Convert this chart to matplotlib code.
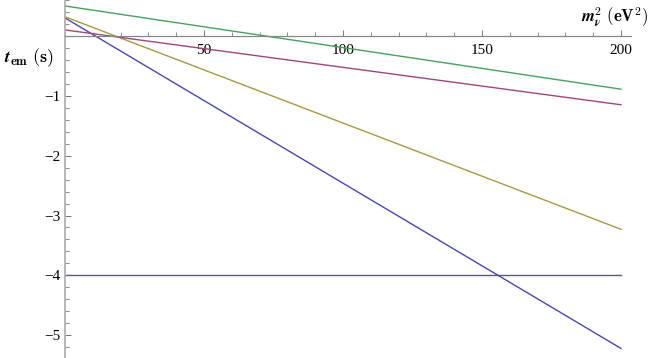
# Emission time vs neutrino mass squared
import numpy as np
import matplotlib.pyplot as plt
from matplotlib.ticker import MultipleLocator, FixedLocator

plt.rcParams['mathtext.fontset'] = 'cm'
plt.rcParams['font.family'] = 'Liberation Serif'

# Line endpoints (x = m_nu^2 in eV^2, y = t_em in s)
x_ends = [0, 200]
blue_y = [0.30, -5.22]
gold_y = [0.32, -3.23]
purple_y = [0.10, -1.15]
green_y = [0.50, -0.89]
limit_y = [-4.0, -4.0]

colors = {'blue': '#4848ac', 'gold': '#a69844', 'purple': '#a0457c',
          'green': '#45a260', 'limit': '#5a5a78'}

fig = plt.figure(figsize=(6.58, 3.58), dpi=100)
ax = fig.add_axes([65 / 658, 0, 566 / 658, 1])

ax.plot(x_ends, limit_y, color=colors['limit'], lw=1)
ax.plot(x_ends, blue_y, color=colors['blue'], lw=1)
ax.plot(x_ends, gold_y, color=colors['gold'], lw=1)
ax.plot(x_ends, purple_y, color=colors['purple'], lw=1)
ax.plot(x_ends, green_y, color=colors['green'], lw=1)

ax.set_xlim(0, 203.6)
ax.set_ylim(-5.38, 0.6)

ax.spines['left'].set_position(('data', 0))
ax.spines['bottom'].set_position(('data', 0))
ax.spines['top'].set_visible(False)
ax.spines['right'].set_visible(False)
ax.spines['left'].set_color('#aaaaaa')
ax.spines['bottom'].set_color('#888888')
ax.spines['left'].set_linewidth(1.2)
ax.spines['bottom'].set_linewidth(0.9)

ax.xaxis.set_major_locator(FixedLocator([50, 100, 150, 200]))
ax.xaxis.set_minor_locator(MultipleLocator(10))
ax.yaxis.set_major_locator(FixedLocator([-5, -4, -3, -2, -1]))
ax.yaxis.set_minor_locator(MultipleLocator(0.2))

ax.tick_params(which='both', direction='in', color='#777777', labelsize=11)
ax.tick_params(which='major', length=4.5, width=0.7)
ax.tick_params(which='minor', length=2.8, width=0.6)
ax.tick_params(axis='x', pad=6)
ax.set_xticklabels(['50', '100', '150', '200'])
ax.set_yticklabels(['\u22125', '\u22124', '\u22123', '\u22122', '\u22121'])

fig.text(0.985, 0.952, r'$\boldsymbol{m}_{\boldsymbol{\nu}}^{\mathbf{2}}\ \mathbf{(eV^2)}$',
         ha='right', va='center', fontsize=12)
fig.text(0.006, 0.838, r'$\boldsymbol{t}_{\mathbf{em}}\ \mathbf{(s)}$',
         ha='left', va='center', fontsize=13)

fig.savefig('out.png', dpi=100)
